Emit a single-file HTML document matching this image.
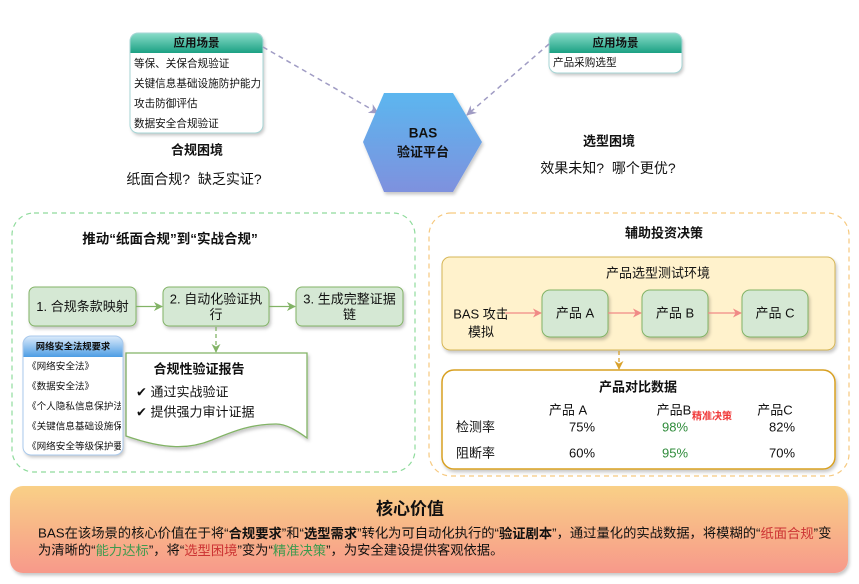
<!DOCTYPE html>
<html>
<head>
<meta charset="utf-8">
<style>
  html,body{margin:0;padding:0;background:#fff;}
  body{width:859px;height:584px;overflow:hidden;position:relative;}
  svg{position:absolute;left:0;top:0;}
  text{font-family:"Liberation Sans","Noto Sans CJK SC",sans-serif;fill:#111;}
  .b{font-weight:bold;}
</style>
</head>
<body>
<svg width="859" height="584" viewBox="0 0 859 584" xmlns="http://www.w3.org/2000/svg">
  <defs>
    <linearGradient id="teal" x1="0" y1="0" x2="0" y2="1">
      <stop offset="0" stop-color="#8adcc9"/>
      <stop offset="1" stop-color="#1ba083"/>
    </linearGradient>
    <linearGradient id="blueh" x1="0" y1="0" x2="0" y2="1">
      <stop offset="0" stop-color="#dcebfb"/>
      <stop offset="1" stop-color="#4d9de4"/>
    </linearGradient>
    <linearGradient id="hexg" x1="0" y1="0" x2="0" y2="1">
      <stop offset="0" stop-color="#5cb6ef"/>
      <stop offset="1" stop-color="#7e91de"/>
    </linearGradient>
    <linearGradient id="ban" x1="0" y1="0" x2="0" y2="1">
      <stop offset="0" stop-color="#f9d087"/>
      <stop offset="1" stop-color="#f7998a"/>
    </linearGradient>
    <filter id="sh" x="-10%" y="-10%" width="125%" height="135%">
      <feDropShadow dx="1.5" dy="2.5" stdDeviation="1.5" flood-color="#000" flood-opacity="0.22"/>
    </filter>
    <marker id="mp" viewBox="0 0 10 10" refX="9" refY="5" markerWidth="10" markerHeight="10" markerUnits="userSpaceOnUse" orient="auto">
      <path d="M0,0 L10,5 L0,10 L3,5 z" fill="#a09cc4"/>
    </marker>
    <marker id="mg" viewBox="0 0 10 10" refX="9" refY="5" markerWidth="9" markerHeight="9" markerUnits="userSpaceOnUse" orient="auto">
      <path d="M0,0 L10,5 L0,10 L3,5 z" fill="#82b366"/>
    </marker>
    <marker id="mr" viewBox="0 0 10 10" refX="9" refY="5" markerWidth="9" markerHeight="9" markerUnits="userSpaceOnUse" orient="auto">
      <path d="M0,0 L10,5 L0,10 L3,5 z" fill="#f08a86"/>
    </marker>
    <marker id="mo" viewBox="0 0 10 10" refX="9" refY="5" markerWidth="9" markerHeight="9" markerUnits="userSpaceOnUse" orient="auto">
      <path d="M0,0 L10,5 L0,10 L3,5 z" fill="#d9a22c"/>
    </marker>
    <clipPath id="listclip"><rect x="24" y="357" width="97" height="97"/></clipPath>
  </defs>

  <!-- ===== Top section ===== -->
  <rect x="130" y="33" width="133" height="100" rx="8" fill="#fff" filter="url(#sh)"/>
  <path d="M130,53 V41 Q130,33 138,33 H255 Q263,33 263,41 V53 Z" fill="url(#teal)"/>
  <rect x="130" y="33" width="133" height="100" rx="8" fill="none" stroke="#a7d6d6" stroke-width="1"/>
  <text x="196.5" y="43.5" text-anchor="middle" dominant-baseline="central" class="b" font-size="11.5">应用场景</text>
  <text x="134" y="64" dominant-baseline="central" font-size="10.6">等保、关保合规验证</text>
  <text x="134" y="84" dominant-baseline="central" font-size="10.6">关键信息基础设施防护能力</text>
  <text x="134" y="104" dominant-baseline="central" font-size="10.6">攻击防御评估</text>
  <text x="134" y="124" dominant-baseline="central" font-size="10.6">数据安全合规验证</text>

  <rect x="549" y="33" width="133" height="40" rx="8" fill="#fff" filter="url(#sh)"/>
  <path d="M549,53 V41 Q549,33 557,33 H674 Q682,33 682,41 V53 Z" fill="url(#teal)"/>
  <rect x="549" y="33" width="133" height="40" rx="8" fill="none" stroke="#a7d6d6" stroke-width="1"/>
  <text x="615.5" y="43.5" text-anchor="middle" dominant-baseline="central" class="b" font-size="11.5">应用场景</text>
  <text x="553" y="63" dominant-baseline="central" font-size="10.6">产品采购选型</text>

  <line x1="263" y1="47" x2="378" y2="113" stroke="#a09cc4" stroke-width="1.5" stroke-dasharray="5 4" marker-end="url(#mp)"/>
  <line x1="549" y1="44" x2="467" y2="115" stroke="#a09cc4" stroke-width="1.5" stroke-dasharray="5 4" marker-end="url(#mp)"/>

  <polygon points="384,93 453,93 482,142 453,192 384,192 363,142" fill="url(#hexg)" filter="url(#sh)"/>
  <text x="423" y="133" text-anchor="middle" dominant-baseline="central" class="b" font-size="13.5">BAS</text>
  <text x="423" y="152" text-anchor="middle" dominant-baseline="central" class="b" font-size="13">验证平台</text>

  <text x="197" y="150" text-anchor="middle" dominant-baseline="central" class="b" font-size="13">合规困境</text>
  <text x="194" y="179" text-anchor="middle" dominant-baseline="central" font-size="14" xml:space="preserve">纸面合规?  缺乏实证?</text>
  <text x="609" y="141" text-anchor="middle" dominant-baseline="central" class="b" font-size="13">选型困境</text>
  <text x="608" y="168" text-anchor="middle" dominant-baseline="central" font-size="14" xml:space="preserve">效果未知?  哪个更优?</text>

  <!-- ===== Left panel ===== -->
  <rect x="12" y="213" width="403" height="259" rx="22" fill="none" stroke="#8fdb9c" stroke-width="1.2" stroke-dasharray="5 4"/>
  <text x="170" y="239" text-anchor="middle" dominant-baseline="central" class="b" font-size="13.5">推动“纸面合规”到“实战合规”</text>

  <rect x="29" y="287" width="107" height="39" rx="6" fill="#d5e8d4" stroke="#82b366" filter="url(#sh)"/>
  <rect x="163" y="287" width="106" height="39" rx="6" fill="#d5e8d4" stroke="#82b366" filter="url(#sh)"/>
  <rect x="296" y="287" width="107" height="39" rx="6" fill="#d5e8d4" stroke="#82b366" filter="url(#sh)"/>
  <text x="82.5" y="306.5" text-anchor="middle" dominant-baseline="central" font-size="13">1. 合规条款映射</text>
  <text x="216" y="299" text-anchor="middle" dominant-baseline="central" font-size="13">2. 自动化验证执</text>
  <text x="216" y="314.5" text-anchor="middle" dominant-baseline="central" font-size="13">行</text>
  <text x="349.5" y="299" text-anchor="middle" dominant-baseline="central" font-size="13">3. 生成完整证据</text>
  <text x="349.5" y="314.5" text-anchor="middle" dominant-baseline="central" font-size="13">链</text>

  <line x1="136" y1="306.5" x2="162" y2="306.5" stroke="#82b366" stroke-width="1.3" marker-end="url(#mg)"/>
  <line x1="269" y1="306.5" x2="295" y2="306.5" stroke="#82b366" stroke-width="1.3" marker-end="url(#mg)"/>
  <line x1="216" y1="327" x2="216" y2="352" stroke="#82b366" stroke-width="1.3" stroke-dasharray="4 3" marker-end="url(#mg)"/>

  <path d="M126,353 H307 V438 C296,430 286,424 276,424 C250,424 232,432 212,440 C190,449 166,450 126,436 Z" fill="#fff" stroke="#82b366" stroke-width="1.3" filter="url(#sh)"/>
  <text x="199" y="369" text-anchor="middle" dominant-baseline="central" class="b" font-size="13">合规性验证报告</text>
  <text x="136" y="392" dominant-baseline="central" font-size="13">✔ 通过实战验证</text>
  <text x="136" y="412" dominant-baseline="central" font-size="13">✔ 提供强力审计证据</text>

  <rect x="23" y="336" width="100" height="119" rx="8" fill="#fff" filter="url(#sh)"/>
  <path d="M23,357 V344 Q23,336 31,336 H115 Q123,336 123,344 V357 Z" fill="url(#blueh)"/>
  <rect x="23" y="336" width="100" height="119" rx="8" fill="none" stroke="#a9c9ec" stroke-width="1"/>
  <text x="73" y="346.5" text-anchor="middle" dominant-baseline="central" class="b" font-size="9.3">网络安全法规要求</text>
  <g clip-path="url(#listclip)">
    <text x="27" y="367" dominant-baseline="central" font-size="9.6">《网络安全法》</text>
    <text x="27" y="387" dominant-baseline="central" font-size="9.6">《数据安全法》</text>
    <text x="27" y="407" dominant-baseline="central" font-size="9.6">《个人隐私信息保护法》</text>
    <text x="27" y="427" dominant-baseline="central" font-size="9.6">《关键信息基础设施保护条例》</text>
    <text x="27" y="447" dominant-baseline="central" font-size="9.6">《网络安全等级保护要求》</text>
  </g>

  <!-- ===== Right panel ===== -->
  <rect x="429" y="213" width="420" height="263" rx="22" fill="none" stroke="#f6c97f" stroke-width="1.2" stroke-dasharray="5 4"/>
  <text x="664" y="233" text-anchor="middle" dominant-baseline="central" class="b" font-size="13">辅助投资决策</text>

  <rect x="442" y="257" width="393" height="93" rx="8" fill="#fff2cc" stroke="#d6b656" filter="url(#sh)"/>
  <text x="658" y="273" text-anchor="middle" dominant-baseline="central" font-size="13">产品选型测试环境</text>

  <rect x="542" y="290" width="66" height="47" rx="8" fill="#d5e8d4" stroke="#82b366" filter="url(#sh)"/>
  <rect x="642" y="290" width="66" height="47" rx="8" fill="#d5e8d4" stroke="#82b366" filter="url(#sh)"/>
  <rect x="742" y="290" width="66" height="47" rx="8" fill="#d5e8d4" stroke="#82b366" filter="url(#sh)"/>
  <text x="575" y="313" text-anchor="middle" dominant-baseline="central" font-size="13">产品 A</text>
  <text x="675" y="313" text-anchor="middle" dominant-baseline="central" font-size="13">产品 B</text>
  <text x="775" y="313" text-anchor="middle" dominant-baseline="central" font-size="13">产品 C</text>

  <text x="481" y="314" text-anchor="middle" dominant-baseline="central" font-size="13">BAS 攻击</text>
  <text x="481" y="332" text-anchor="middle" dominant-baseline="central" font-size="13">模拟</text>

  <line x1="505" y1="313" x2="541" y2="313" stroke="#f08a86" stroke-width="1.3" marker-end="url(#mr)"/>
  <line x1="608" y1="313" x2="641" y2="313" stroke="#f08a86" stroke-width="1.3" marker-end="url(#mr)"/>
  <line x1="708" y1="313" x2="741" y2="313" stroke="#f08a86" stroke-width="1.3" marker-end="url(#mr)"/>

  <line x1="619" y1="351" x2="619" y2="369" stroke="#d9a22c" stroke-width="1.3" stroke-dasharray="4 3" marker-end="url(#mo)"/>

  <rect x="442" y="370" width="393" height="99" rx="12" fill="#fff" stroke="#d8a021" stroke-width="1.5" filter="url(#sh)"/>
  <text x="638" y="387" text-anchor="middle" dominant-baseline="central" class="b" font-size="13">产品对比数据</text>
  <text x="568" y="410" text-anchor="middle" dominant-baseline="central" font-size="13">产品 A</text>
  <text x="674" y="410" text-anchor="middle" dominant-baseline="central" font-size="13">产品B</text>
  <text x="692" y="417" dominant-baseline="central" class="b" font-size="10" style="fill:#f03a3a">精准决策</text>
  <text x="775" y="410" text-anchor="middle" dominant-baseline="central" font-size="13">产品C</text>
  <text x="456" y="427" dominant-baseline="central" font-size="13">检测率</text>
  <text x="582" y="427" text-anchor="middle" dominant-baseline="central" font-size="13">75%</text>
  <text x="675" y="427" text-anchor="middle" dominant-baseline="central" font-size="13" style="fill:#2e8b3a">98%</text>
  <text x="782" y="427" text-anchor="middle" dominant-baseline="central" font-size="13">82%</text>
  <text x="456" y="453" dominant-baseline="central" font-size="13">阻断率</text>
  <text x="582" y="453" text-anchor="middle" dominant-baseline="central" font-size="13">60%</text>
  <text x="675" y="453" text-anchor="middle" dominant-baseline="central" font-size="13" style="fill:#2e8b3a">95%</text>
  <text x="782" y="453" text-anchor="middle" dominant-baseline="central" font-size="13">70%</text>

  <!-- ===== Bottom banner ===== -->
  <rect x="10" y="486" width="838" height="87" rx="13" fill="url(#ban)" filter="url(#sh)"/>
  <text x="410" y="509" text-anchor="middle" dominant-baseline="central" class="b" font-size="17">核心价值</text>
  <text x="38" y="533" dominant-baseline="central" font-size="13.3">BAS在该场景的核心价值在于将“<tspan class="b">合规要求</tspan>”和“<tspan class="b">选型需求</tspan>”转化为可自动化执行的“<tspan class="b">验证剧本</tspan>”，通过量化的实战数据，将模糊的“<tspan style="fill:#cc3333">纸面合规</tspan>”变</text>
  <text x="38" y="550" dominant-baseline="central" font-size="13.3">为清晰的“<tspan style="fill:#3d9a4e">能力达标</tspan>”，将“<tspan style="fill:#cc3333">选型困境</tspan>”变为“<tspan style="fill:#3d9a4e">精准决策</tspan>”，为安全建设提供客观依据。</text>
</svg>
</body>
</html>
